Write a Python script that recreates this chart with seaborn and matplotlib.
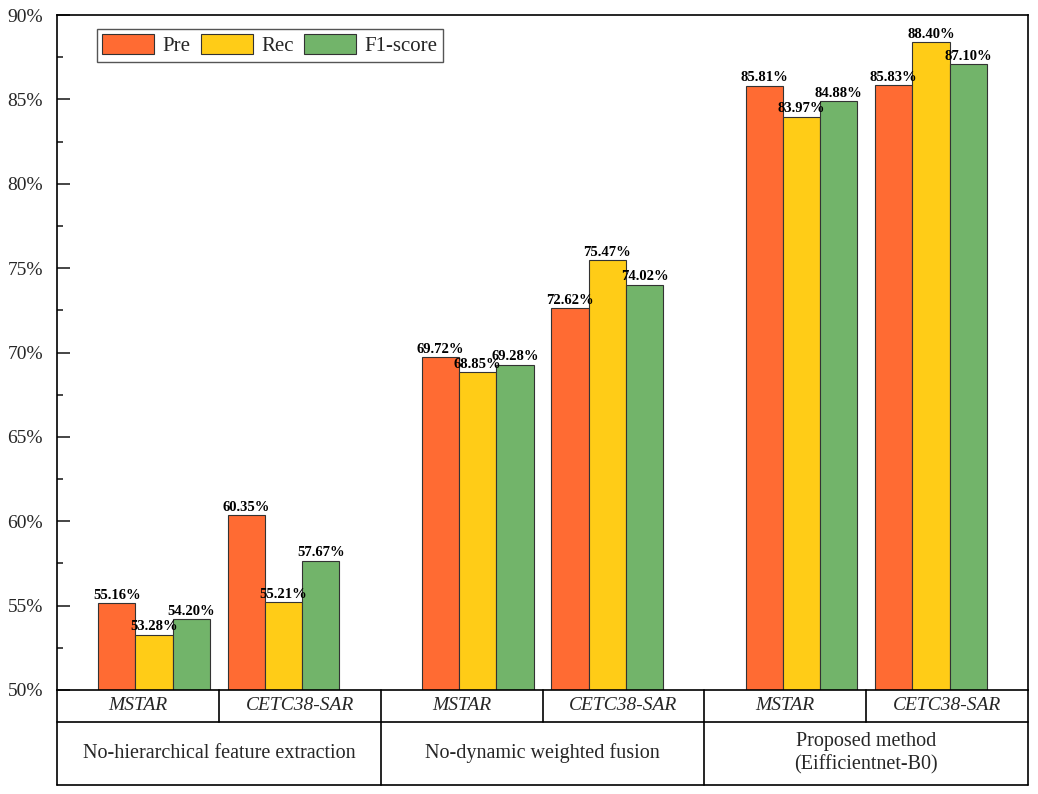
import matplotlib
matplotlib.use("Agg")
import matplotlib.pyplot as plt
import matplotlib.transforms as mtransforms
from matplotlib.ticker import MultipleLocator, FuncFormatter
import numpy as np
import pandas as pd
import seaborn as sns

# data
methods = ["No-hierarchical feature extraction",
           "No-dynamic weighted fusion",
           "Proposed method\n(Eifficientnet-B0)"]
datasets = ["MSTAR", "CETC38-SAR"]
metrics = ["Pre", "Rec", "F1-score"]
pre = [55.16, 60.35, 69.72, 72.62, 85.81, 85.83]
rec = [53.28, 55.21, 68.85, 75.47, 83.97, 88.40]
f1 = [54.20, 57.67, 69.28, 74.02, 84.88, 87.10]
colors = ["#FF6B33", "#FFCC17", "#72B46A"]

# each dataset cell is one unit wide, bars sit off-centre towards the group middle
pos = []
for g in range(len(methods)):
    pos += [2 * g + 0.6, 2 * g + 1.4]

rows = []
for m, vals in zip(metrics, [pre, rec, f1]):
    for p, v in zip(pos, vals):
        rows.append({"pos": p, "value": v, "metric": m})
df = pd.DataFrame(rows)

sns.set_theme(style="ticks")
plt.rcParams['font.family'] = ['Liberation Serif', 'DejaVu Serif']

fig = plt.figure(figsize=(10.38, 7.94), dpi=100)
ax = fig.add_axes([57 / 1038, 104 / 794, 971 / 1038, 675 / 794])

sns.barplot(data=df, x="pos", y="value", hue="metric", native_scale=True,
            width=0.8625, palette=colors, edgecolor="#333333", linewidth=0.8,
            saturation=1, ax=ax)

for cont in ax.containers:
    ax.bar_label(cont, fmt="%.2f%%", padding=1, fontsize=10.5,
                 fontweight="bold", color="black")

ax.set_xlim(0, 6)
ax.set_ylim(50, 90)
ax.yaxis.set_major_locator(MultipleLocator(5))
ax.yaxis.set_minor_locator(MultipleLocator(2.5))
ax.yaxis.set_major_formatter(FuncFormatter(lambda v, _: f"{v:.0f}%"))
ax.tick_params(axis="y", which="major", direction="in", length=9,
               width=1.2, labelsize=14, pad=10)
ax.tick_params(axis="y", which="minor", direction="in", length=4.5, width=1.2)
ax.set_xticks([])
ax.set_xlabel("")
ax.set_ylabel("")
for s in ax.spines.values():
    s.set_visible(True)
    s.set_linewidth(1.2)
    s.set_color("black")

handles, labels = ax.get_legend_handles_labels()
ax.legend(handles, labels, loc="upper left", ncol=3, fontsize=15,
          bbox_to_anchor=(0.041, 0.979), borderaxespad=0, frameon=True,
          fancybox=False, edgecolor="#555555", handlelength=2.5,
          handleheight=1.1, columnspacing=0.5, handletextpad=0.4,
          borderpad=0.25, framealpha=1)

# table underneath the axis
tr = mtransforms.blended_transform_factory(ax.transData, ax.transAxes)
r1 = -32 / 675
r2 = -95 / 675
lk = dict(color="black", lw=1.2, transform=tr, clip_on=False)
ax.plot([0, 6], [r1, r1], **lk)
ax.plot([0, 6], [r2, r2], **lk)
for x in [0, 2, 4, 6]:
    ax.plot([x, x], [0, r2], **lk)
for x in [1, 3, 5]:
    ax.plot([x, x], [0, r1], **lk)

for g, name in enumerate(methods):
    for d, ds in enumerate(datasets):
        ax.text(2 * g + d + 0.5, r1 / 2, ds, transform=tr, ha="center",
                va="center", fontsize=14, style="italic")
    ax.text(2 * g + 1, (r1 + r2) / 2, name, transform=tr, ha="center",
            va="center", fontsize=14.5, linespacing=1.3)

fig.savefig("out.png", dpi=100)
